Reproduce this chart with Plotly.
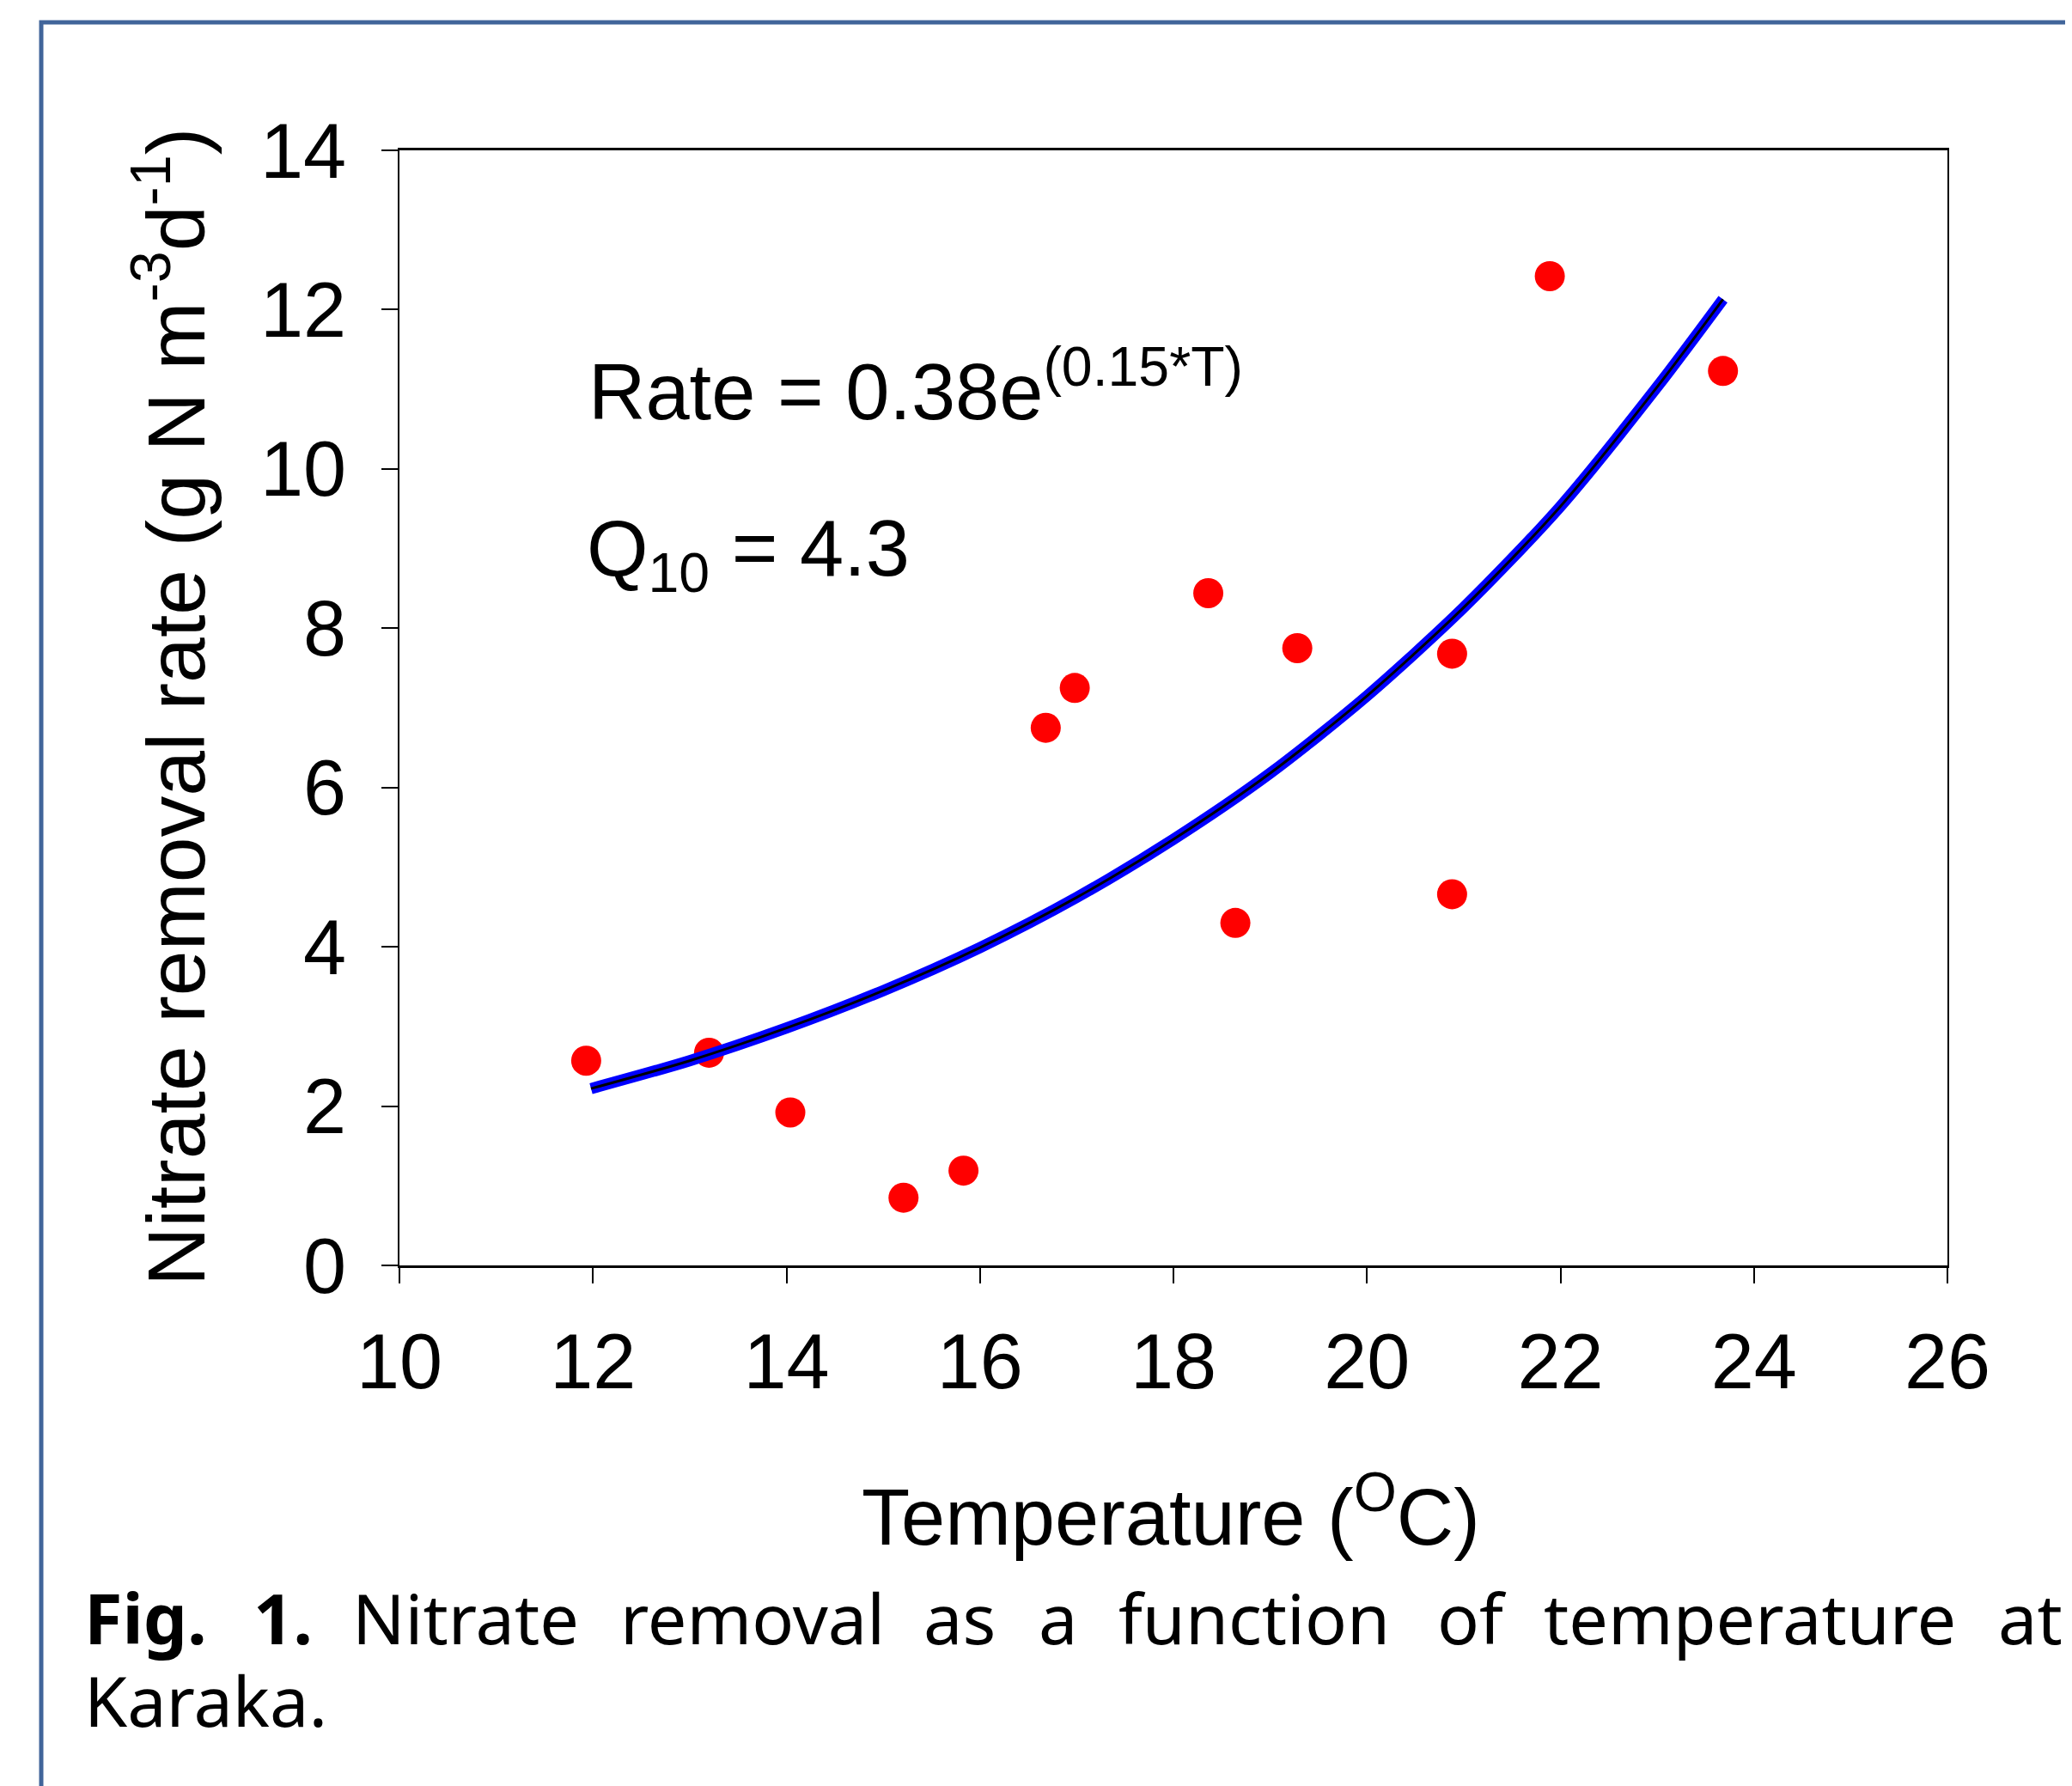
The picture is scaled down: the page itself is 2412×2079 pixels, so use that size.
import plotly.graph_objects as go

# Observed data (temperature °C, nitrate removal rate g N m-3 d-1)
temp_obs = [11.93, 13.20, 14.04, 15.21, 15.83, 16.68, 16.98, 18.36, 18.64, 19.28, 20.88, 20.88, 21.89, 23.68]
rate_obs = [2.57, 2.67, 1.92, 0.85, 1.19, 6.75, 7.25, 8.44, 4.30, 7.75, 4.66, 7.68, 12.42, 11.23]

# Fitted curve
temp_fit = [11.98, 13.0, 14.0, 15.0, 16.0, 17.0, 18.0, 19.0, 20.0, 21.0, 22.0, 23.0, 23.68]
rate_fit = [2.22, 2.57, 2.98, 3.45, 3.99, 4.62, 5.35, 6.18, 7.15, 8.26, 9.53, 11.03, 12.13]

x_ticks = [10, 12, 14, 16, 18, 20, 22, 24, 26]
y_ticks = [0, 2, 4, 6, 8, 10, 12, 14]

W, H = 2412, 2079
OFF = 8  # page offset of the plot div
PL, PR, PT, PB = 465, 2267, 175, 1473  # plot area edges in window pixels
L, R, T, B = PL - OFF, W - (PR - OFF), PT - OFF, H - (PB - OFF)
PW, PH = PR - PL, PB - PT


def px(xp):
    return (xp - PL) / PW


def py(yp):
    return (PB - yp) / PH


FONT = "Liberation Sans, Arial, sans-serif"
CAP = "Noto Sans, sans-serif"

fig = go.Figure()
fig.add_trace(go.Scatter(x=temp_obs, y=rate_obs, mode="markers",
                         marker=dict(color="#FF0000", size=35, line=dict(width=0)),
                         showlegend=False, cliponaxis=False))
fig.add_trace(go.Scatter(x=temp_fit, y=rate_fit, mode="lines",
                         line=dict(color="#0000FF", width=13, shape="spline", smoothing=0.8),
                         showlegend=False))
fig.add_trace(go.Scatter(x=temp_fit, y=rate_fit, mode="lines",
                         line=dict(color="#000000", width=3, shape="spline", smoothing=0.8),
                         showlegend=False))

annotations = [
    dict(text="Temperature (<sup>O</sup>C)", x=px(1363), y=py(1759), xanchor="center", yanchor="middle",
         font=dict(family=FONT, size=92, color="black")),
    dict(text="Nitrate removal rate (g N m<sup>-3</sup>d<sup>-1</sup>)", x=px(198), y=py(823), textangle=-90,
         xanchor="center", yanchor="middle", font=dict(family=FONT, size=95, color="black")),
    dict(text="Rate = 0.38e<sup>(0.15*T)</sup>", x=px(683), y=py(449), xanchor="left", yanchor="middle",
         font=dict(family=FONT, size=92, color="black")),
    dict(text="Q<sub>10</sub> = 4.3", x=px(681), y=py(645), xanchor="left", yanchor="middle",
         font=dict(family=FONT, size=92, color="black")),
]

caption_words = ["<b>Fig.</b>", "<b>1.</b>", "Nitrate", "removal", "as", "a", "function", "of", "temperature", "at"]
caption_x = [97, 294, 409, 721, 1074, 1208, 1301, 1672, 1796, 2325]
for wtxt, xx in zip(caption_words, caption_x):
    annotations.append(dict(text=wtxt, x=px(xx), y=py(1882), xanchor="left", yanchor="middle",
                            font=dict(family=CAP, size=81, color="black"), borderpad=0))
annotations.append(dict(text="Karaka.", x=px(97), y=py(1978), xanchor="left", yanchor="middle",
                        font=dict(family=CAP, size=81, color="black"), borderpad=0))

for a in annotations:
    a.update(xref="paper", yref="paper", showarrow=False)

fig.update_layout(
    width=W, height=H,
    margin=dict(l=L, r=R, t=T, b=B, pad=0),
    paper_bgcolor="white", plot_bgcolor="white",
    annotations=annotations,
    shapes=[dict(type="rect", xref="paper", yref="paper",
                 x0=px(48), x1=px(2700), y0=py(2300), y1=py(26),
                 line=dict(color="#41659A", width=5), fillcolor="rgba(0,0,0,0)", layer="below")],
    font=dict(family=FONT, color="black"),
)

fig.update_xaxes(range=[10, 26], tickvals=x_ticks, ticktext=[str(v) for v in x_ticks],
                 ticks="outside", ticklen=18, tickwidth=2, tickcolor="black",
                 showline=True, linewidth=3, linecolor="black", mirror=True,
                 showgrid=False, zeroline=False, ticklabelstandoff=14,
                 tickfont=dict(family=FONT, size=90, color="black"))
fig.update_yaxes(range=[0, 14], tickvals=y_ticks, ticktext=[str(v) for v in y_ticks],
                 ticks="outside", ticklen=19, tickwidth=2, tickcolor="black",
                 showline=True, linewidth=2, linecolor="black", mirror=True,
                 showgrid=False, zeroline=False, ticklabelstandoff=23,
                 tickfont=dict(family=FONT, size=90, color="black"))

fig.write_html("out.html")
